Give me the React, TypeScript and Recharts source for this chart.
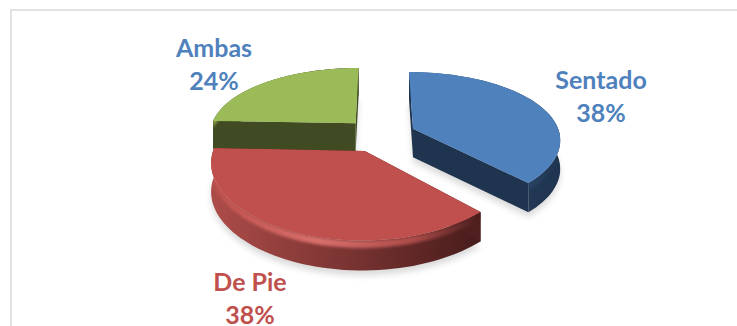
import { Pie, PieChart } from 'recharts'

// drawn back to front, so the red slice ends up on top of the green wall
const categories = ['Ambas', 'Sentado', 'De Pie']
const shares = [24.4, 37.8, 37.8]

const sliceColors = ['#9bbb59', '#4f81bd', '#c0504d']
const labelColors = ['#4f81bd', '#4f81bd', '#c0504d']
const cutColors = ['#414b23', '#1f344f', '#4f201f']
const wallLeft = ['#414b23', '#2a4668', '#ad4c49']
const wallRight = ['#414b23', '#1f344f', '#471c1b']
const labelSpots = [
  [214, 57],
  [601, 89],
  [250, 291],
]

const pieData = categories.map((name, i) => ({ name, share: shares[i], index: i }))

const WIDTH = 737
const HEIGHT = 326
const RADIUS = 147
const SQUASH = 0.465
const PERSPECTIVE_X = 0.14
const PERSPECTIVE_Y = 0.17
const EXPLODE = 0.245
const DEPTH = 28.5
const START_ANGLE = 90 + shares[0] * 3.6

const RAD = Math.PI / 180

type SliceProps = {
  cx: number
  cy: number
  startAngle: number
  endAngle: number
  payload: { index: number; name: string }
}

function project(cx: number, cy: number, angle: number, r: number, mid: number, drop = 0) {
  const u = r * Math.cos(angle * RAD) + EXPLODE * Math.cos(mid * RAD)
  const v = -r * Math.sin(angle * RAD) - EXPLODE * Math.sin(mid * RAD)
  const sx = 1 / (1 - PERSPECTIVE_X * v)
  const sy = 1 / (1 - PERSPECTIVE_Y * v)
  return [cx + RADIUS * u * sx, cy + RADIUS * SQUASH * v * sy + drop * Math.pow(sy, 0.2)] as const
}

function toPath(points: ReadonlyArray<readonly [number, number]>) {
  return points.map(([x, y], i) => `${i ? 'L' : 'M'}${x.toFixed(1)} ${y.toFixed(1)}`).join(' ') + ' Z'
}

function TiltedSlice(props: SliceProps) {
  const { cx, cy, startAngle, endAngle, payload } = props
  const i = payload.index
  const mid = (startAngle + endAngle) / 2
  const steps = 60
  const angles = Array.from({ length: steps + 1 }, (_, k) => startAngle + ((endAngle - startAngle) * k) / steps)
  const rim = angles.map((a) => project(cx, cy, a, 1, mid))
  const rimLow = angles.map((a) => project(cx, cy, a, 1, mid, DEPTH))
  const rimBevel = angles.map((a) => project(cx, cy, a, 1, mid, 7))
  const apex = project(cx, cy, 0, 0, mid)
  const apexLow = project(cx, cy, 0, 0, mid, DEPTH)
  const first = rim[0]
  const last = rim[steps]
  const firstLow = rimLow[0]
  const lastLow = rimLow[steps]

  const xs = rim.map((p) => p[0])
  const wallId = `wall-${i}`
  const bevelId = `bevel-${i}`
  const clipId = `wall-clip-${i}`
  const wallPath = toPath([...rim, ...[...rimLow].reverse()])

  return (
    <g>
      <defs>
        <linearGradient id={wallId} gradientUnits="userSpaceOnUse" x1={Math.min(...xs)} x2={Math.max(...xs)} y1={0} y2={0}>
          <stop offset="0" stopColor={wallLeft[i]} />
          <stop offset="1" stopColor={wallRight[i]} />
        </linearGradient>
        <linearGradient id={bevelId} gradientUnits="userSpaceOnUse" x1={Math.min(...xs)} x2={Math.max(...xs)} y1={0} y2={0}>
          <stop offset="0" stopColor={sliceColors[i]} />
          <stop offset="0.4" stopColor={i === 2 ? '#d9706c' : sliceColors[i]} />
          <stop offset="0.75" stopColor={wallLeft[i]} />
          <stop offset="1" stopColor={wallRight[i]} />
        </linearGradient>
        <clipPath id={clipId}>
          <path d={wallPath} />
        </clipPath>
        <filter id="soft" x="-20%" y="-20%" width="140%" height="140%">
          <feGaussianBlur stdDeviation="3" />
        </filter>
        <filter id="softer" x="-5%" y="-5%" width="110%" height="110%">
          <feGaussianBlur stdDeviation="1.8" />
        </filter>
      </defs>
      <path
        d={toPath([apexLow, ...rimLow])}
        transform="translate(0 5)"
        fill="#000"
        opacity={0.14}
        filter="url(#soft)"
      />
      <path d={wallPath} fill={`url(#${wallId})`} />
      <path d={toPath([apex, first, firstLow, apexLow])} fill={cutColors[i]} />
      <path d={toPath([apex, last, lastLow, apexLow])} fill={cutColors[i]} />
      <g clipPath={`url(#${clipId})`}>
        <path
          d={toPath([...rim, ...[...rimBevel].reverse()])}
          fill={`url(#${bevelId})`}
          filter="url(#softer)"
        />
      </g>
      <path d={toPath([apex, ...rim])} fill={sliceColors[i]} />
    </g>
  )
}

function renderLabel(props: { name?: string; percent?: number }) {
  const i = categories.indexOf(props.name ?? '')
  const [x, y] = labelSpots[i]
  return (
    <text
      key={props.name}
      x={x}
      y={y}
      textAnchor="middle"
      fill={labelColors[i]}
      fontFamily="Lato, sans-serif"
      fontWeight={700}
      fontSize={25}
    >
      <tspan x={x}>{props.name}</tspan>
      <tspan x={x} dy={32.5}>{`${Math.round((props.percent ?? 0) * 100)}%`}</tspan>
    </text>
  )
}

export default function App() {
  return (
    <div style={{ position: 'absolute', left: 0, top: 0, width: WIDTH, height: HEIGHT, background: '#fff', overflow: 'hidden' }}>
      <div
        style={{
          position: 'absolute',
          left: 10,
          top: 9,
          width: WIDTH,
          height: HEIGHT,
          borderLeft: '2px solid #e2e2e2',
          borderTop: '2px solid #e2e2e2',
        }}
      />
      <div style={{ position: 'absolute', left: 0, top: 0 }}>
        <PieChart width={WIDTH} height={HEIGHT} margin={{ top: 0, right: 0, bottom: 0, left: 0 }}>
          <Pie
            data={pieData}
            dataKey="share"
            nameKey="name"
            cx={380}
            cy={135}
            outerRadius={RADIUS}
            startAngle={START_ANGLE}
            endAngle={START_ANGLE - 360}
            stroke="none"
            labelLine={false}
            label={renderLabel}
            shape={TiltedSlice as never}
            isAnimationActive={false}
          />
        </PieChart>
      </div>
    </div>
  )
}
